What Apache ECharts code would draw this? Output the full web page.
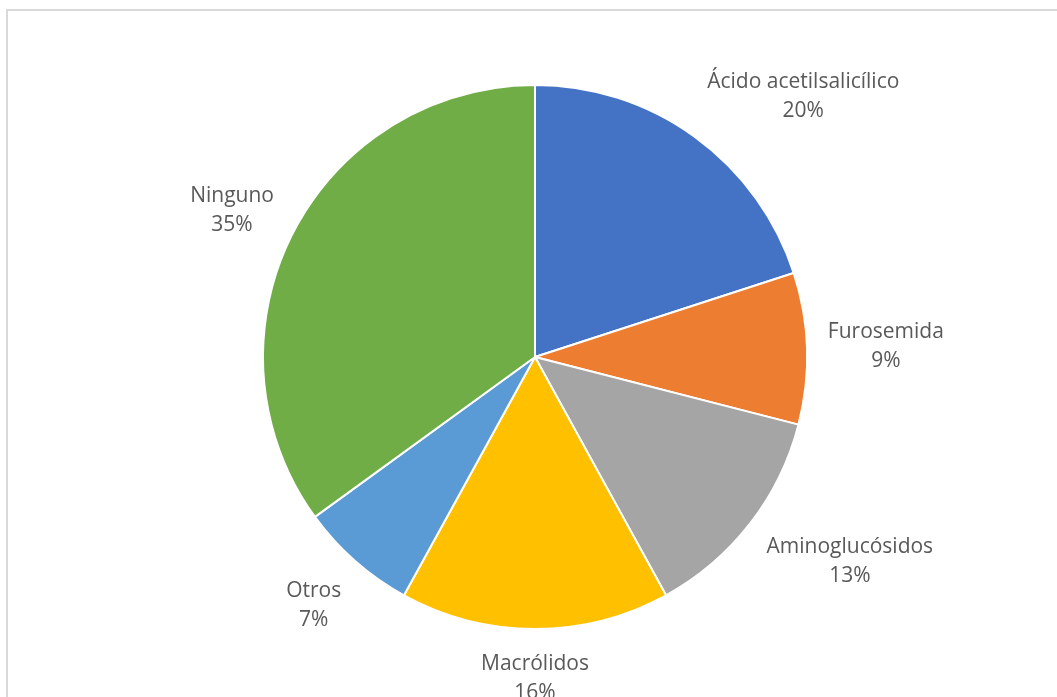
<!DOCTYPE html>
<html>
<head>
<meta charset="utf-8">
<script src="https://cdn.jsdelivr.net/npm/echarts@6/dist/echarts.min.js"></script>
<style>
  html, body { margin: 0; padding: 0; background: #ffffff; }
  #chart { width: 1057px; height: 697px; }
</style>
</head>
<body>
<div id="chart"></div>
<script>
// Medication groups and their shares (%)
const categories = ['Ácido acetilsalicílico', 'Furosemida', 'Aminoglucósidos', 'Macrólidos', 'Otros', 'Ninguno'];
const values = [20, 9, 13, 16, 7, 35];
const colors = ['#4472C4', '#ED7D31', '#A5A5A5', '#FFC000', '#5B9BD5', '#70AD47'];

const CX = 535, CY = 357, R = 272, GAP = 21;
const FONT_SIZE = 21, LINE_H = 29, FONT_FAMILY = 'Open Sans';
const total = values.reduce((a, b) => a + b, 0);

// mid angle of each slice, clockwise from 12 o'clock
const midAngles = [];
let acc = 0;
values.forEach(v => {
  midAngles.push((acc + v / 2) / total * Math.PI * 2);
  acc += v;
});

const clamp = (v) => Math.max(-1, Math.min(1, v));
const measureCtx = document.createElement('canvas').getContext('2d');
measureCtx.font = FONT_SIZE + 'px "' + FONT_FAMILY + '"';

function labelText(i) {
  return categories[i] + '\n' + values[i] + '%';
}

// Outside-end data labels: the side of the label facing the pie sits
// a small gap beyond the rim, on the slice's mid angle.
function renderLabel(params, api) {
  const i = params.dataIndex;
  const a = midAngles[i];
  const dx = Math.sin(a), dy = -Math.cos(a);
  const lines = labelText(i).split('\n');
  const w = Math.max.apply(null, lines.map(t => measureCtx.measureText(t).width));
  const h = lines.length * LINE_H;
  const x = CX + dx * (R + GAP) + clamp(dx * 2) * w / 2;
  const y = CY + dy * (R + GAP) + clamp(dy * (dy > 0 ? 1.4 : 1)) * h / 2;
  return {
    type: 'text',
    x: x,
    y: y,
    style: {
      text: labelText(i),
      align: 'center',
      verticalAlign: 'middle',
      fontFamily: FONT_FAMILY,
      fontSize: FONT_SIZE,
      lineHeight: LINE_H,
      fill: '#595959'
    },
    silent: true
  };
}

const chart = echarts.init(document.getElementById('chart'));
chart.setOption({
  animation: false,
  graphic: [{
    type: 'rect',
    shape: { x: 7, y: 10, width: 1200, height: 900 },
    style: { fill: 'none', stroke: '#d9d9d9', lineWidth: 2 },
    silent: true
  }],
  series: [{
    type: 'pie',
    center: [CX, CY],
    radius: [0, R],
    startAngle: 90,
    clockwise: true,
    data: categories.map((name, i) => ({
      name: name,
      value: values[i],
      itemStyle: { color: colors[i] }
    })),
    itemStyle: { borderColor: '#ffffff', borderWidth: 2 },
    label: { show: false },
    labelLine: { show: false },
    emphasis: { disabled: true }
  }, {
    type: 'custom',
    coordinateSystem: 'none',
    data: values.map((v, i) => [i, v]),
    renderItem: renderLabel,
    silent: true
  }]
});
</script>
</body>
</html>
